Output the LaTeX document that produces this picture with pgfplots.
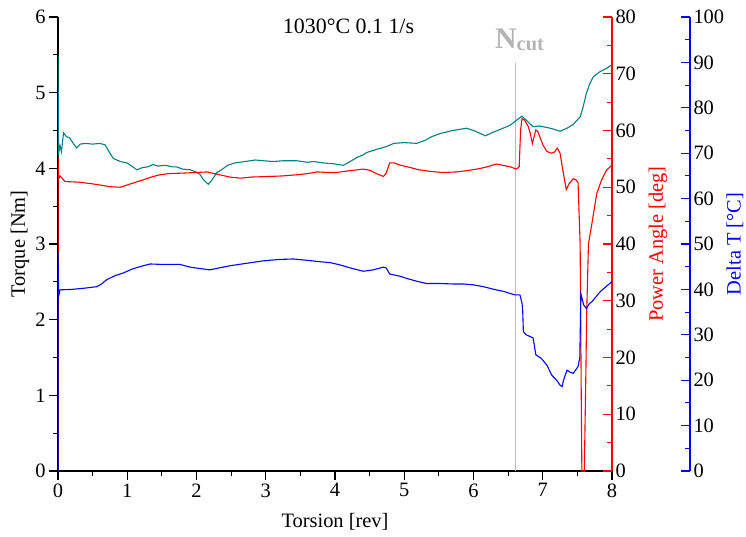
\documentclass[border=0pt]{standalone}
\usepackage{pgfplots}
\pgfplotsset{compat=1.18}
\usepackage{fontspec}
\setmainfont{Liberation Serif}
\definecolor{torq}{HTML}{008080}
\definecolor{ncutline}{HTML}{BBBBBB}
\definecolor{ncuttext}{HTML}{B4B4B4}
\begin{document}
\begin{tikzpicture}
\pgfplotsset{
  base/.style={
    height=454bp, scale only axis, ymin=0,
    tick label style={font=\fontsize{20.5}{22}\selectfont},
    label style={font=\fontsize{20.5}{22}\selectfont},
    /pgf/number format/assume math mode=true,
    major tick length=9bp, minor tick length=5bp,
    axis line style={line width=1.1bp,-},
    every tick/.style={line width=1.1bp},
    minor tick num=1,
  },
}
% ---------- Torque ----------
\begin{axis}[base, width=554bp, xmin=0, xmax=8, ymax=6,
  axis x line*=bottom, axis y line*=left, tick align=outside,
  xtick={0,1,...,8}, ytick={0,1,...,6},
  xlabel={Torsion [rev]}, ylabel={Torque [Nm]},
  xlabel style={at={(axis description cs:0.5,-0.112)}, anchor=center},
  ylabel style={at={(axis description cs:-0.0686,0.5)}, anchor=center},
  every tick/.style={line width=1.1bp, black},
]
\addplot[ncutline, line width=1.3bp] coordinates {(6.61,0) (6.61,5.39)};
\addplot[torq, line width=1.1bp] coordinates {
(0,5.48) (0.008,4.2) (0.03,4.3) (0.05,4.22) (0.08,4.47) (0.12,4.42) (0.17,4.40)
(0.22,4.33) (0.27,4.27) (0.32,4.32) (0.4,4.33) (0.5,4.32) (0.6,4.33) (0.68,4.31)
(0.75,4.2) (0.8,4.13) (0.9,4.09) (1.0,4.07) (1.08,4.02) (1.14,3.98) (1.22,4.01)
(1.3,4.02) (1.37,4.05) (1.45,4.03) (1.55,4.04) (1.65,4.02) (1.71,4.02) (1.8,3.99)
(1.91,3.98) (2.0,3.95) (2.05,3.92) (2.1,3.85) (2.17,3.79) (2.22,3.84) (2.29,3.94)
(2.36,3.98) (2.45,4.04) (2.55,4.07) (2.7,4.09) (2.85,4.11) (2.97,4.10) (3.1,4.09)
(3.25,4.10) (3.45,4.10) (3.6,4.08) (3.69,4.09) (3.85,4.07) (3.98,4.06) (4.05,4.05)
(4.12,4.04) (4.2,4.08) (4.31,4.14) (4.41,4.18) (4.46,4.21) (4.6,4.25) (4.75,4.29)
(4.85,4.33) (5.0,4.34) (5.18,4.33) (5.3,4.37) (5.4,4.42) (5.52,4.46) (5.7,4.50)
(5.9,4.53) (6.0,4.50) (6.1,4.46) (6.17,4.43) (6.22,4.45) (6.29,4.48) (6.4,4.52)
(6.53,4.57) (6.6,4.62) (6.7,4.69) (6.78,4.62) (6.86,4.55) (6.95,4.56) (7.06,4.54)
(7.15,4.52) (7.25,4.49) (7.35,4.53) (7.44,4.58) (7.54,4.68) (7.58,4.80) (7.63,4.99)
(7.68,5.12) (7.73,5.21) (7.83,5.28) (7.92,5.32) (8.0,5.37)
};
\node[anchor=base, font=\fontsize{22}{24}\selectfont] at (axis cs:4.195,5.788) {1030°C 0.1 1/s};
\node[anchor=base west, inner sep=0pt, text=ncuttext] at (axis cs:6.31,5.586)
  {\fontsize{30}{32}\selectfont\bfseries N\raisebox{-2bp}{\fontsize{20.5}{22}\selectfont\bfseries cut}};
\end{axis}
% ---------- Power angle ----------
\begin{axis}[base, width=554bp, xmin=0, xmax=8, ymax=80,
  axis y line*=right, axis x line=none, tick align=inside,
  ytick={0,10,...,80},
  ylabel={Power Angle [deg]},
  ylabel style={red, at={(axis description cs:1.083,0.5)}, anchor=center},
  y axis line style={red},
  every tick/.style={line width=1.1bp, red},
]
\addplot[red, line width=1.1bp] coordinates {
(0,0) (0,55.3) (0.01,51.5) (0.03,52.0) (0.1,51.0) (0.3,50.9) (0.5,50.6) (0.75,50.1)
(0.9,50.0) (1.0,50.4) (1.1,50.8) (1.23,51.3) (1.35,51.8) (1.47,52.2) (1.6,52.4)
(1.81,52.5) (2.0,52.6) (2.15,52.7) (2.3,52.3) (2.48,51.8) (2.63,51.6) (2.8,51.8)
(3.06,51.9) (3.25,52.0) (3.45,52.2) (3.6,52.4) (3.74,52.7) (3.9,52.6) (4.02,52.6)
(4.2,52.9) (4.41,53.2) (4.5,53.0) (4.6,52.4) (4.7,51.9) (4.74,52.5) (4.79,54.3)
(4.85,54.3) (4.94,53.9) (5.08,53.5) (5.2,53.1) (5.37,52.8) (5.55,52.6) (5.76,52.7)
(5.95,53.0) (6.09,53.3) (6.2,53.6) (6.33,54.1) (6.45,53.8) (6.53,53.6) (6.62,53.2)
(6.66,53.6) (6.68,60.0) (6.70,62.1) (6.74,61.8) (6.79,60.7) (6.82,59.5) (6.85,57.7)
(6.90,60.1) (6.93,59.8) (7.0,57.5) (7.06,56.3) (7.13,56.0) (7.17,56.2) (7.21,56.9)
(7.25,56.0) (7.29,53.0) (7.34,49.6) (7.38,50.6) (7.44,51.5) (7.48,51.3) (7.51,50.8)
(7.54,40) (7.555,15) (7.565,0) (7.60,0) (7.62,15) (7.635,28) (7.66,40) (7.71,43.6)
(7.78,48.9) (7.85,51.3) (7.92,53.0) (8.0,53.9)
};
\end{axis}
% ---------- Delta T ----------
\begin{axis}[base, width=632bp, xmin=0, xmax=9.12635, ymax=100,
  axis y line*=right, axis x line=none, tick align=inside,
  ytick={0,10,...,100},
  ylabel={Delta T [°C]},
  ylabel style={blue, at={(axis description cs:1.0712,0.5)}, anchor=center},
  y axis line style={blue},
  every tick/.style={line width=1.1bp, blue},
]
\addplot[blue, line width=1.1bp] coordinates {
(0,0) (0,48) (0.01,38.5) (0.03,39.9) (0.2,40.0) (0.4,40.3) (0.56,40.6) (0.63,41.2)
(0.70,42.1) (0.82,43.0) (0.94,43.6) (1.06,44.4) (1.18,45.0) (1.33,45.6) (1.5,45.5)
(1.76,45.5) (1.91,44.9) (2.05,44.6) (2.19,44.3) (2.35,44.8) (2.48,45.2) (2.7,45.7)
(2.97,46.3) (3.2,46.6) (3.40,46.7) (3.6,46.4) (3.78,46.1) (3.93,45.9) (4.07,45.4)
(4.25,44.6) (4.41,44.0) (4.55,44.3) (4.70,44.9) (4.74,44.7) (4.79,43.4) (4.94,42.9)
(5.04,42.4) (5.18,41.8) (5.32,41.3) (5.5,41.3) (5.7,41.2) (5.85,41.2) (6.0,41.0)
(6.14,40.6) (6.3,40.0) (6.45,39.5) (6.53,39.1) (6.6,38.8) (6.67,38.8) (6.70,37.0)
(6.71,35.5) (6.72,30.7) (6.76,30.0) (6.82,29.6) (6.86,29.3) (6.88,27.5) (6.90,25.6)
(6.98,24.8) (7.06,23.3) (7.13,21.1) (7.20,20.0) (7.25,18.9) (7.28,18.6) (7.30,20.0)
(7.35,22.2) (7.39,21.8) (7.44,21.5) (7.51,23.0) (7.535,25.0) (7.55,39.1) (7.59,36.6)
(7.63,35.8) (7.67,36.8) (7.71,37.3) (7.83,39.5) (7.92,40.7) (8.0,41.7)
};
\end{axis}
\pgfresetboundingbox
\path (-58bp,-66bp) rectangle (688bp,471bp);
\end{tikzpicture}
\end{document}
